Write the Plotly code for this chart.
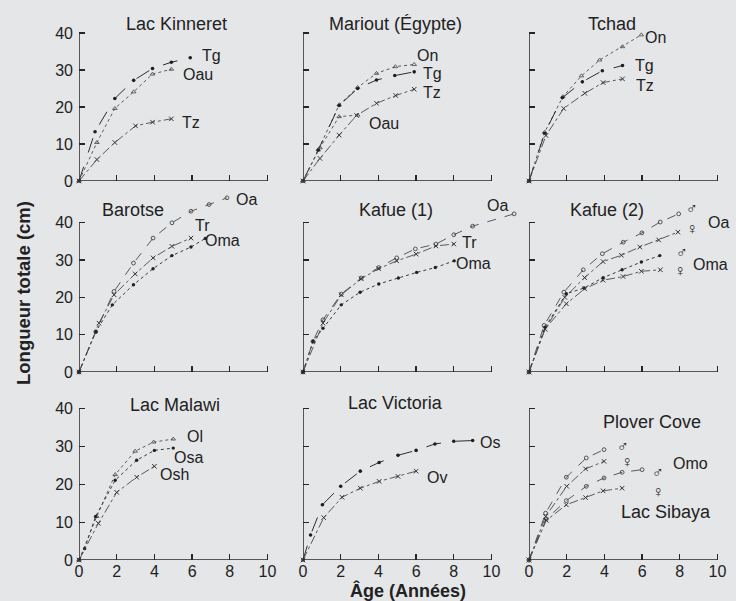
import plotly.graph_objects as go

W, H = 736, 601

# ---------------- data: age (years) / total length (cm) ----------------
# Lac Kinneret
kin_tg_age = [0, 0.85, 1.9, 2.9, 3.9, 4.9, 5.9]
kin_tg_len = [0, 13.3, 22.3, 27.2, 30.4, 32.1, 33.3]
kin_oau_age = [0, 0.95, 1.9, 2.9, 3.9, 4.9]
kin_oau_len = [0, 10.4, 19.6, 24.1, 28.9, 30.2]
kin_tz_age = [0, 0.95, 1.9, 3.0, 3.9, 4.9]
kin_tz_len = [0, 5.8, 10.4, 14.9, 15.9, 16.8]
# Mariout (Égypte)
mar_on_age = [0, 0.81, 1.92, 2.9, 3.9, 4.9, 5.9]
mar_on_len = [0, 8.4, 20.6, 25.3, 29.1, 30.9, 31.5]
mar_tg_age = [0, 0.81, 1.92, 2.9, 3.9, 4.87, 5.9]
mar_tg_len = [0, 8.4, 20.4, 25.0, 27.3, 28.5, 29.5]
mar_tz_age = [0, 0.9, 1.92, 2.84, 3.9, 4.92, 5.9]
mar_tz_len = [0, 6.1, 12.4, 17.7, 21.0, 23.1, 24.8]
mar_oau_age = [0, 0.9, 1.92, 2.9]
mar_oau_len = [0, 9.0, 17.4, 17.8]
# Tchad
tch_on_age = [0, 0.83, 1.8, 2.78, 3.75, 4.96, 5.96]
tch_on_len = [0, 13.2, 22.8, 28.4, 32.7, 36.3, 39.5]
tch_tg_age = [0, 0.83, 1.77, 2.83, 3.89, 4.96]
tch_tg_len = [0, 12.9, 22.5, 26.8, 29.8, 31.2]
tch_tz_age = [0, 0.9, 1.84, 2.96, 3.93, 4.96]
tch_tz_len = [0, 12.3, 19.6, 23.7, 26.6, 27.6]
# Barotse
bar_oa_age = [0, 0.89, 1.86, 2.89, 3.93, 4.93, 5.94, 6.9, 7.85]
bar_oa_len = [0, 10.8, 21.6, 29.2, 35.9, 40.0, 43.1, 44.9, 46.7]
bar_tr_age = [0, 1.06, 1.86, 2.98, 3.93, 4.93, 5.94]
bar_tr_len = [0, 13.1, 20.7, 26.3, 30.6, 33.7, 35.9]
bar_oma_age = [0, 0.89, 1.77, 2.89, 3.93, 4.93, 5.94, 6.7]
bar_oma_len = [0, 10.8, 18.0, 23.4, 27.7, 31.2, 33.5, 35.8]
# Kafue (1)
kf1_oa_age = [0, 0.53, 1.06, 2.03, 3.09, 4.02, 4.97, 5.96, 7.05, 8.0, 9.0, 11.2]
kf1_oa_len = [0, 8.2, 14.0, 20.9, 25.2, 28.0, 30.6, 33.0, 34.3, 36.8, 39.1, 42.4]
kf1_tr_age = [0, 1.06, 2.03, 3.09, 4.02, 4.97, 6.0, 7.05, 8.0]
kf1_tr_len = [0, 13.1, 20.7, 25.0, 27.7, 29.8, 31.6, 33.8, 34.3]
kf1_oma_age = [0, 0.53, 1.06, 2.03, 3.03, 4.02, 5.06, 6.03, 7.02, 8.02]
kf1_oma_len = [0, 8.2, 11.7, 18.0, 21.4, 23.6, 25.2, 26.7, 28.0, 29.8]
# Kafue (2)
kf2_oam_age = [0, 0.8, 1.85, 2.88, 3.89, 5.0, 5.99, 6.96, 7.94]
kf2_oam_len = [0, 12.5, 21.4, 27.4, 31.7, 34.8, 37.3, 40.2, 42.4]
kf2_oaf_age = [0, 0.85, 1.9, 2.95, 3.93, 4.9, 5.88, 6.88, 7.9]
kf2_oaf_len = [0, 11.5, 20.0, 25.3, 29.6, 31.3, 33.5, 35.4, 37.5]
kf2_omam_age = [0, 0.85, 1.98, 2.92, 3.93, 4.94, 5.96, 6.94]
kf2_omam_len = [0, 12.0, 21.0, 22.5, 25.3, 27.4, 29.5, 31.2]
kf2_omaf_age = [0, 0.85, 1.98, 2.95, 3.93, 4.99, 5.96, 6.97]
kf2_omaf_len = [0, 11.5, 18.3, 22.3, 24.6, 25.6, 27.0, 27.4]
# Lac Malawi
mal_ol_age = [0, 0.94, 1.92, 2.98, 3.96, 5.0]
mal_ol_len = [0, 11.5, 22.6, 28.8, 31.2, 32.0]
mal_osa_age = [0, 0.3, 0.88, 1.92, 3.06, 4.0, 5.0]
mal_osa_len = [0, 3.0, 11.5, 21.1, 26.4, 29.0, 29.6]
mal_osh_age = [0, 1.03, 2.0, 3.06, 4.0]
mal_osh_len = [0, 9.7, 17.9, 21.9, 24.8]
# Lac Victoria
vic_os_age = [0, 0.4, 1.03, 2.0, 3.04, 4.04, 5.04, 6.0, 7.0, 8.0, 9.0]
vic_os_len = [0, 6.6, 14.6, 19.5, 23.5, 25.8, 27.7, 29.0, 30.7, 31.4, 31.6]
vic_ov_age = [0, 1.1, 2.07, 3.04, 4.04, 5.04, 6.0]
vic_ov_len = [0, 11.2, 16.6, 19.0, 20.8, 22.1, 23.5]
# Plover Cove / Omo (Lac Sibaya)
plo_m_age = [0, 0.88, 1.98, 3.04, 3.98]
plo_m_len = [0, 12.4, 21.9, 27.0, 29.2]
plo_f_age = [0, 0.88, 2.0, 3.0, 3.98]
plo_f_len = [0, 11.5, 19.5, 24.1, 26.1]
omo_m_age = [0, 0.92, 1.98, 3.04, 3.98, 4.94, 6.0]
omo_m_len = [0, 10.9, 15.7, 19.5, 21.7, 23.2, 23.9]
omo_f_age = [0, 0.92, 1.98, 3.0, 3.93, 4.94]
omo_f_len = [0, 10.5, 14.6, 16.5, 18.3, 19.0]

x_ticks = [0, 2, 4, 6, 8, 10]
y_ticks = [0, 10, 20, 30, 40]

# ---------------- styles ----------------
INK = "#262626"
S_FULL = dict(mode="lines+markers", line=dict(dash="longdash", width=1.0, color="#2e2e2e"),
              marker=dict(symbol="circle", size=3.6, color="#1e1e1e"))
S_DOTTRI = dict(mode="lines+markers", line=dict(dash="dot", width=1.0, color="#5a5a5a"),
                marker=dict(symbol="triangle-up-open", size=4, color="#555", line=dict(width=0.9)))
S_DASHX = dict(mode="lines+markers", line=dict(dash="dashdot", width=0.9, color="#4a4a4a"),
               marker=dict(symbol="x-thin-open", size=4.5, color="#333", line=dict(width=1.0)))
S_DOTFULL = dict(mode="lines+markers", line=dict(dash="dot", width=1.0, color="#3a3a3a"),
                 marker=dict(symbol="circle", size=3.4, color="#222"))
S_DASHO = dict(mode="lines+markers", line=dict(dash="dash", width=0.9, color="#4a4a4a"),
               marker=dict(symbol="circle-open", size=3.8, color="#444", line=dict(width=0.9)))

# panel layout (pixel geometry)
col_x0 = [79, 303, 529]
col_xmax = [11.0, 11.4, 10.5]
row_y0 = [181, 372, 560]
row_ppy = [3.70, 3.73, 3.78]
row_ymax = [42, 48, 42]
PPX = 18.85

panels = [
    ("Lac Kinneret", 0, 0, [(kin_tg_age, kin_tg_len, S_FULL), (kin_oau_age, kin_oau_len, S_DOTTRI),
                            (kin_tz_age, kin_tz_len, S_DASHX)]),
    ("Mariout (Égypte)", 1, 0, [(mar_on_age, mar_on_len, S_DOTTRI), (mar_tg_age, mar_tg_len, S_FULL),
                                 (mar_tz_age, mar_tz_len, S_DASHX), (mar_oau_age, mar_oau_len, S_DOTTRI)]),
    ("Tchad", 2, 0, [(tch_on_age, tch_on_len, S_DOTTRI), (tch_tg_age, tch_tg_len, S_FULL),
                     (tch_tz_age, tch_tz_len, S_DASHX)]),
    ("Barotse", 0, 1, [(bar_oa_age, bar_oa_len, S_DASHO), (bar_tr_age, bar_tr_len, S_DASHX),
                       (bar_oma_age, bar_oma_len, S_DOTFULL)]),
    ("Kafue (1)", 1, 1, [(kf1_oa_age, kf1_oa_len, S_DASHO), (kf1_tr_age, kf1_tr_len, S_DASHX),
                         (kf1_oma_age, kf1_oma_len, S_DOTFULL)]),
    ("Kafue (2)", 2, 1, [(kf2_oam_age, kf2_oam_len, S_DASHO), (kf2_oaf_age, kf2_oaf_len, S_DASHX),
                         (kf2_omam_age, kf2_omam_len, S_DOTFULL), (kf2_omaf_age, kf2_omaf_len, S_DASHX)]),
    ("Lac Malawi", 0, 2, [(mal_ol_age, mal_ol_len, S_DOTTRI), (mal_osa_age, mal_osa_len, S_DOTFULL),
                          (mal_osh_age, mal_osh_len, S_DASHX)]),
    ("Lac Victoria", 1, 2, [(vic_os_age, vic_os_len, S_FULL), (vic_ov_age, vic_ov_len, S_DASHX)]),
    ("", 2, 2, [(plo_m_age, plo_m_len, S_DASHO), (plo_f_age, plo_f_len, S_DASHX),
                (omo_m_age, omo_m_len, S_DASHO), (omo_f_age, omo_f_len, S_DASHX)]),
]


def fx(px):
    return px / W


def fy(py):
    return 1 - py / H


fig = go.Figure()
layout = {}
shapes = []
FONT = "Liberation Sans, Arial, Helvetica, sans-serif"

for i, (title, c, r, series) in enumerate(panels, start=1):
    xa = "x" if i == 1 else f"x{i}"
    ya = "y" if i == 1 else f"y{i}"
    x0 = col_x0[c]
    x1 = x0 + col_xmax[c] * PPX
    y0 = row_y0[r]
    y1 = y0 - row_ymax[r] * row_ppy[r]
    layout["xaxis" if i == 1 else f"xaxis{i}"] = dict(
        domain=[fx(x0), min(fx(x1), 1)], range=[0, col_xmax[c]], anchor=ya, automargin=False,
        showgrid=False, zeroline=False, showline=False,
        ticks="inside", ticklen=6, tickwidth=1.3, tickcolor=INK,
        tickvals=x_ticks, showticklabels=(r == 2), ticklabelstandoff=0,
        tickfont=dict(size=16, color="#222", family=FONT))
    layout["yaxis" if i == 1 else f"yaxis{i}"] = dict(
        domain=[fy(y0), fy(y1)], range=[0, row_ymax[r]], anchor=xa, automargin=False,
        showgrid=False, zeroline=False, showline=False,
        ticks="inside", ticklen=6, tickwidth=1.3, tickcolor=INK,
        tickvals=y_ticks, showticklabels=(c == 0), ticklabelstandoff=5,
        tickfont=dict(size=16, color="#222", family=FONT))
    shapes.append(dict(type="line", xref=xa, yref=ya, x0=0, x1=10, y0=0, y1=0,
                       line=dict(color=INK, width=1.5)))
    shapes.append(dict(type="line", xref=xa, yref=ya, x0=0, x1=0, y0=0, y1=40,
                       line=dict(color=INK, width=1.5)))
    for ages, lens, style in series:
        fig.add_trace(go.Scatter(x=ages, y=lens, xaxis=xa, yaxis=ya, showlegend=False,
                                 cliponaxis=False, hoverinfo="skip", **style))

# text labels (pixel positions)
titles = [
    ("Lac Kinneret", 176, 24), ("Mariout (Égypte)", 395, 24), ("Tchad", 612, 24),
    ("Barotse", 133, 210), ("Kafue (1)", 396, 210), ("Kafue (2)", 607, 210),
    ("Lac Malawi", 175, 405), ("Lac Victoria", 395, 403), ("Plover Cove", 652, 422),
    ("Lac Sibaya", 666, 512),
]
labels = [
    ("Tg", 211, 55), ("Oau", 198, 74), ("Tz", 191, 122),
    ("On", 427, 55), ("Tg", 432, 73), ("Tz", 432, 93), ("Oau", 384, 123),
    ("On", 655, 38), ("Tg", 644, 65), ("Tz", 645, 86),
    ("Oa", 246, 200), ("Tr", 202, 225), ("Oma", 222, 240),
    ("Oa", 497, 206), ("Tr", 469, 243), ("Oma", 473, 263),
    ("♂", 692, 208), ("Oa", 718, 222), ("♀", 692, 228), ("♂", 682, 252), ("Oma", 710, 264), ("♀", 680, 270),
    ("Ol", 195, 436), ("Osa", 188, 457), ("Osh", 174, 474),
    ("Os", 490, 442), ("Ov", 437, 477),
    ("♂", 623, 446), ("♀", 627, 461), ("Omo", 690, 463), ("♂", 658, 472), ("♀", 658, 491),
]
ann = []
for t, x, y in titles:
    ann.append(dict(text=t, x=fx(x), y=fy(y), xref="paper", yref="paper", showarrow=False,
                    xanchor="center", yanchor="middle", font=dict(size=18, color="#222", family=FONT)))
for t, x, y in labels:
    ann.append(dict(text=t, x=fx(x), y=fy(y), xref="paper", yref="paper", showarrow=False,
                    xanchor="center", yanchor="middle", font=dict(size=16, color="#222", family=FONT)))
ann.append(dict(text="<b>Longueur totale (cm)</b>", x=fx(23), y=fy(293), xref="paper", yref="paper",
                showarrow=False, textangle=-90, xanchor="center", yanchor="middle",
                font=dict(size=18.5, color="#222", family=FONT)))
ann.append(dict(text="<b>Âge (Années)</b>", x=fx(408), y=fy(590), xref="paper", yref="paper",
                showarrow=False, xanchor="center", yanchor="middle",
                font=dict(size=18, color="#222", family=FONT)))

fig.update_layout(width=W, height=H, margin=dict(l=0, r=0, t=0, b=0, autoexpand=False),
                  paper_bgcolor="#e5e6e8", plot_bgcolor="rgba(0,0,0,0)",
                  font=dict(family=FONT, color="#222"),
                  shapes=shapes, annotations=ann, **layout)

fig.write_html("out.html", config={"displayModeBar": False, "staticPlot": True},
               post_script="document.documentElement.style.margin='0';"
                           "document.body.style.margin='0';document.body.style.padding='0';"
                           "document.body.style.overflow='hidden';"
                           "document.body.style.background='#e5e6e8';")
